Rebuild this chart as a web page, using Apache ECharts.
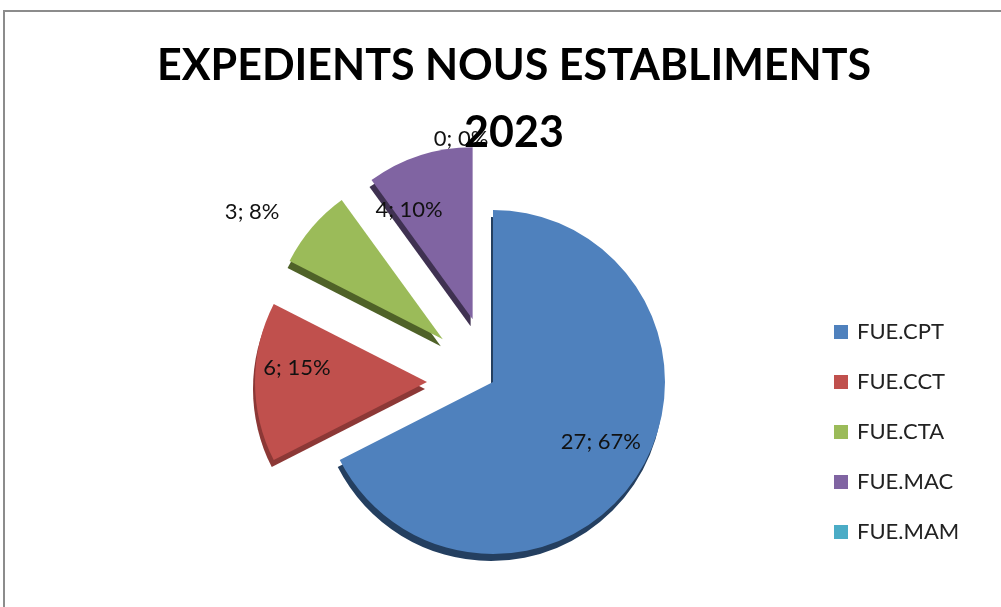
<!DOCTYPE html>
<html>
<head>
<meta charset="utf-8">
<script src="https://cdn.jsdelivr.net/npm/echarts@6/dist/echarts.min.js"></script>
<style>
  html, body { margin: 0; padding: 0; background: #fff; }
  #echarts { width: 1001px; height: 607px; }
</style>
</head>
<body>
<div id="echarts"></div>
<script>
// dades
var CATEGORIES = ["FUE.CPT", "FUE.CCT", "FUE.CTA", "FUE.MAC", "FUE.MAM"];
var VALUES = [27, 6, 3, 4, 0];
var SHARES = [67, 15, 8, 10, 0]; // % tal com surt a les etiquetes

var COLORS = ["#4F81BD", "#C0504D", "#9BBB59", "#8064A2", "#4BACC6"];
var EDGES = ["#243F60", "#8C3836", "#4F6228", "#3F3151", "#215968"];
var EXPLODED = [false, true, true, true, true];
// desplaçament de cada etiqueta respecte a la posició "inside"
var LABEL_SHIFT = [[32, 13], [-41, -14], [-123, -69], [-36, -25], [-32, -88]];

var chartDom = document.getElementById("echarts");
var myChart = echarts.init(chartDom);
var option;

option = {
  animation: false,
  title: {
    text: "EXPEDIENTS NOUS ESTABLIMENTS\n2023",
    left: 509,
    textAlign: "center",
    top: 28,
    itemGap: 0,
    textStyle: {
      fontFamily: "Lato",
      fontWeight: "bold",
      fontSize: 43,
      lineHeight: 67,
      color: "#000",
    },
  },
  legend: {
    orient: "vertical",
    left: 829,
    top: 316,
    itemWidth: 14,
    itemHeight: 14,
    itemGap: 28,
    icon: "rect",
    selectedMode: false,
    textStyle: {
      fontFamily: "Lato",
      fontSize: 22,
      color: "#222",
      padding: [0, 0, 0, 4],
    },
    data: CATEGORIES,
  },
  graphic: [
    {
      type: "rect",
      shape: { x: 4, y: 11, width: 1010, height: 620 },
      style: { fill: "none", stroke: "#8c8c8c", lineWidth: 2 },
      silent: true,
    },
  ],
  series: [
    {
      type: "pie",
      center: [493, 382],
      radius: [0, 172],
      startAngle: 90,
      clockwise: true,
      selectedMode: "multiple",
      selectedOffset: 66,
      avoidLabelOverlap: false,
      emphasis: { disabled: true },
      label: {
        show: true,
        position: "inside",
        fontFamily: "Lato",
        fontSize: 22,
        color: "#111",
        formatter: function (p) {
          return VALUES[p.dataIndex] + "; " + SHARES[p.dataIndex] + "%";
        },
      },
      labelLine: { show: false },
      labelLayout: function (p) {
        var s = LABEL_SHIFT[p.dataIndex];
        return { dx: s[0], dy: s[1] };
      },
      data: CATEGORIES.map(function (name, i) {
        return {
          name: name,
          value: VALUES[i],
          selected: EXPLODED[i],
          itemStyle: {
            color: COLORS[i],
            shadowColor: EDGES[i],
            shadowBlur: 0,
            shadowOffsetX: -2,
            shadowOffsetY: 7,
          },
        };
      }),
    },
  ],
};

option && myChart.setOption(option);
</script>
</body>
</html>
